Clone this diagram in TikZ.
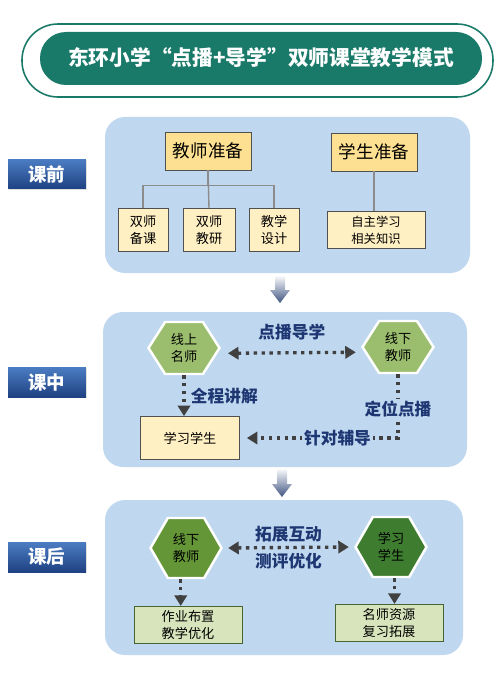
\documentclass[tikz,border=0pt]{standalone}
\usepackage{fontspec}
\setmainfont{Noto Sans CJK SC}
\usepackage{tikz}
\usetikzlibrary{positioning, calc}
\usetikzlibrary{arrows.meta, shapes.symbols, shadows}

\definecolor{titlegreen}{RGB}{26,122,106}
\definecolor{panelblue}{RGB}{192,216,239}
\definecolor{prepyellow}{RGB}{253,224,145}
\definecolor{subyellow}{RGB}{255,240,196}
\definecolor{boxgrey}{RGB}{80,80,80}
\definecolor{linegrey}{RGB}{140,140,140}
\definecolor{dotgrey}{RGB}{64,64,64}
\definecolor{navytext}{RGB}{30,55,115}
\definecolor{hexlight}{RGB}{155,190,110}
\definecolor{hexmid}{RGB}{100,150,55}
\definecolor{hexdark}{RGB}{62,125,48}
\definecolor{lightgreen}{RGB}{216,228,188}
\definecolor{greenedge}{RGB}{70,100,50}
\definecolor{tagtop}{RGB}{75,125,195}
\definecolor{tagbottom}{RGB}{30,65,130}
\definecolor{arrowblue}{RGB}{65,85,130}

\begin{document}
\begin{tikzpicture}[x=0.02cm, y=-0.02cm,
    panel/.style={fill=panelblue, rounded corners=0.4cm},
    prepbox/.style={draw=boxgrey, fill=prepyellow, inner sep=0pt, minimum width=1.72cm, minimum height=0.76cm, font=\fontsize{10}{12}\selectfont},
    subbox/.style={draw=boxgrey, fill=subyellow, inner sep=0pt, minimum height=0.86cm, align=center, font=\fontsize{7.5}{10}\selectfont},
    greenbox/.style={draw=greenedge, fill=lightgreen, inner sep=0pt, minimum width=2.16cm, minimum height=0.75cm, align=center, font=\fontsize{7.5}{9.6}\selectfont},
    hexcell/.style={shape=signal, signal to=east and west, signal pointer angle=115, draw=white, line width=1.4pt, inner sep=0pt, minimum width=1.42cm, minimum height=1.04cm, align=center, font=\fontsize{7.5}{10}\selectfont},
    stagetag/.style={top color=tagtop, bottom color=tagbottom, inner sep=0pt, minimum width=1.56cm, minimum height=0.6cm, text=white, font=\bfseries\fontsize{10.5}{12}\selectfont, drop shadow={opacity=0.25, shadow xshift=0.8pt, shadow yshift=-0.8pt}},
    tagline/.style={text=navytext, font=\bfseries\fontsize{9.5}{11}\selectfont, inner sep=1pt},
    treeline/.style={draw=linegrey, line width=0.8pt},
    dotarrow/.style={draw=dotgrey, line width=1.9pt, dash pattern=on 1.9pt off 2.6pt, -{Triangle[length=6pt,width=7pt]}},
    twoway/.style={dotarrow, {Triangle[length=6pt,width=7pt]}-{Triangle[length=6pt,width=7pt]}},
    blockarrow/.style={top color=white, bottom color=arrowblue, draw=none}]

    \useasboundingbox (0,0) rectangle (500,686);

    % title
    \filldraw[fill=white, draw=titlegreen, line width=0.9pt, rounded corners=0.72cm] (22,24) rectangle (493,97);
    \fill[titlegreen, rounded corners=0.52cm] (40,32) rectangle (482,85);
    \node[text=white, font=\bfseries\fontsize{11.8}{14}\selectfont] (title) at (261,58) {东环小学“点播+导学”双师课堂教学模式};

    % stages
    \node[stagetag] (before) at (47,174) {课前};
    \node[stagetag] (during) at (47,382) {课中};
    \node[stagetag] (after) at (47,557) {课后};

    % before class
    \fill[panel] (105,117) rectangle (470,273);
    \node[prepbox] (tprep) at (208,151) {教师准备};
    \node[prepbox] (sprep) at (374,152) {学生准备};
    \node[subbox, minimum width=1cm] (plan) at (143,230) {双师\\备课};
    \node[subbox, minimum width=1.04cm] (study) at (209,230) {双师\\教研};
    \node[subbox, minimum width=1cm] (design) at (274,230) {教学\\设计};
    \node[subbox, minimum width=1.96cm, minimum height=0.74cm, font=\fontsize{7}{9.6}\selectfont] (self) at (376,230) {自主学习\\相关知识};
    \draw[treeline] (tprep.south) -- ++(0,15) -| (plan.north);
    \draw[treeline] (tprep.south) -- (study.north);
    \draw[treeline] (tprep.south) -- ++(0,15) -| (design.north);
    \draw[treeline] (sprep.south) -- (sprep.south |- self.north);

    \shade[blockarrow] (275,275) -- (285,275) -- (285,290) -- (290,290) -- (280,303) -- (270,290) -- (275,290) -- cycle;

    % during class
    \fill[panel] (103,312) rectangle (467,467);
    \node[hexcell, fill=hexlight] (online) at (184,348) {线上\\名师};
    \node[hexcell, fill=hexlight] (offline) at (398,347) {线下\\教师};
    \node[subbox, minimum width=1.98cm, font=\fontsize{7.5}{9}\selectfont] (learner) at (190,438) {学习学生};
    \draw[twoway] ([xshift=4pt, yshift=-3pt]online.east) -- node[tagline, above=5pt] (guide) {点播导学} ([xshift=-3pt, yshift=-3pt]offline.west);
    \draw[dotarrow] (online.south) -- node[tagline, right=2pt] (explain) {全程讲解} (online.south |- learner.north);
    \draw[dotarrow] (offline.south) |- node[tagline, fill=panelblue, pos=0.27] (locate) {定位点播} node[tagline, fill=panelblue, pos=0.7] (coach) {针对辅导} ([xshift=4pt]learner.east);

    \shade[blockarrow] (277,468) -- (287,468) -- (287,484) -- (292,484) -- (282,497) -- (272,484) -- (277,484) -- cycle;

    % after class
    \fill[panel] (105,500) rectangle (463,655);
    \node[hexcell, fill=hexmid, minimum height=1.2cm, signal pointer angle=120] (teacher) at (186,548) {线下\\教师};
    \node[hexcell, fill=hexdark, minimum height=1.2cm, signal pointer angle=120] (pupil) at (391,547) {学习\\学生};
    \node[greenbox] (homework) at (188,625) {作业布置\\教学优化};
    \node[greenbox] (resource) at (389,623) {名师资源\\复习拓展};
    \draw[twoway] ([xshift=3pt]teacher.east) -- node[tagline, above=1pt] (extend) {拓展互动} node[tagline, below=1pt] (assess) {测评优化} ([xshift=-3pt]pupil.west);
    \draw[dotarrow] ([xshift=-3pt]teacher.south) -- ([xshift=-3pt]teacher.south |- homework.north);
    \draw[dotarrow] ([xshift=2pt]pupil.south) -- ([xshift=2pt]pupil.south |- resource.north);
\end{tikzpicture}
\end{document}
